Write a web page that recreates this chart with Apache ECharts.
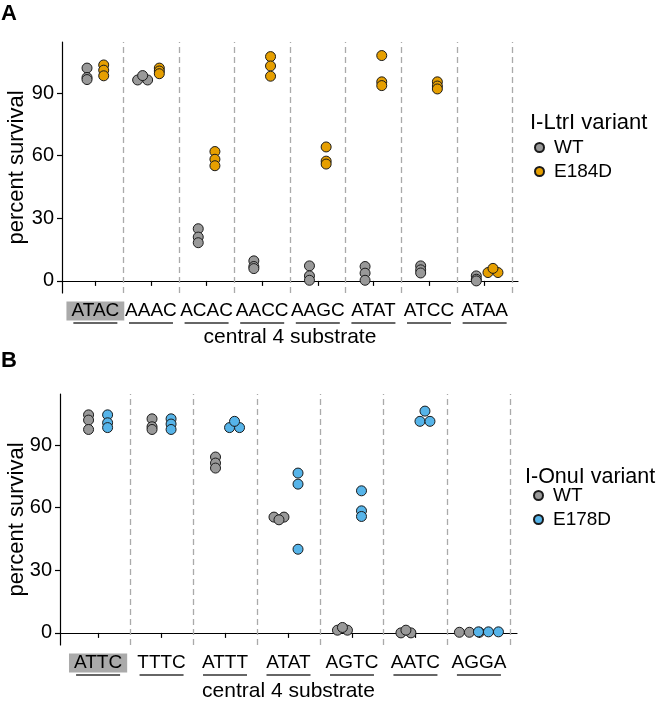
<!DOCTYPE html>
<html>
<head>
<meta charset="utf-8">
<script src="https://cdn.jsdelivr.net/npm/echarts@6/dist/echarts.min.js"></script>
<style>
html, body { margin: 0; padding: 0; background: #fff; }
#main { width: 661px; height: 706px; }
</style>
</head>
<body>
<div id="main"></div>
<script>
// panel A: I-LtrI
const catsA = ['ATAC', 'AAAC', 'ACAC', 'AACC', 'AAGC', 'ATAT', 'ATCC', 'ATAA'];
const wtA = [[102, 97.5, 96.5], [96.3, 98.4, 96.3], [25, 21, 18.3], [9.6, 6.9, 5.9],
             [7.2, 2.4, 0.3], [6.9, 3.7, 0.3], [7.2, 5.3, 3.8], [2.4, 0.8, 0]];
const e184dA = [[103.5, 101, 98.3], [102, 100.6, 99.3], [62, 58.3, 55.2], [107.5, 103, 98.1],
                [64.2, 57.4, 56], [108, 95.4, 93.6], [95.4, 93.4, 92], [4, 6, 4]];

// panel B: I-OnuI
const catsB = ['ATTC', 'TTTC', 'ATTT', 'ATAT', 'AGTC', 'AATC', 'AGGA'];
const wtB = [[104.5, 102, 97.5], [102.6, 98.8, 97.5], [84.3, 81.4, 79], [55.5, 54.2, 55.5],
             [1.3, 2.6, 1.3], [0, 1.3, 0], [0.3, 0.3, 0.3]];
const e178dB = [[104.5, 100.7, 98.4], [102.6, 100.1, 97.5], [98.4, 101.4, 98.4], [76.6, 71.3, 40.1],
                [68.1, 58.5, 55.8], [106.3, 101.4, 101.4], [0.5, 0.5, 0.5]];

const yTicks = [0, 30, 60, 90];

const FONT = '"Liberation Sans", Arial, Helvetica, sans-serif';
const GREY = '#999999';
const ORANGE = '#E69F00';
const BLUE = '#56B4E9';

const grids = [
    { left: 62, top: 42, width: 456, height: 251 },
    { left: 60, top: 394, width: 457, height: 251 }
];

// equal values go side by side, the rest stay stacked
function swarm(groups, side, gridW) {
    const n = groups.length;
    const step = 10 / (gridW / (n + 0.2));
    const pts = [];
    groups.forEach((vals, i) => {
        const cx = i + 1 + side * 0.15;
        const used = vals.map(() => false);
        vals.forEach((v, j) => {
            if (used[j]) return;
            const row = [];
            vals.forEach((w, k) => {
                if (!used[k] && Math.abs(w - v) < 0.5) { row.push(k); used[k] = true; }
            });
            row.forEach((k, r) => pts.push([cx + (r - (row.length - 1) / 2) * step, vals[k]]));
        });
    });
    return pts;
}

function xAxisFor(idx, cats, gap) {
    const ticks = cats.map((c, i) => i + 1);
    return {
        type: 'value', gridIndex: idx, min: 0.4, max: cats.length + 0.6,
        name: 'central 4 substrate', nameLocation: 'middle', nameGap: gap, nameMoveOverlap: false,
        nameTextStyle: { fontSize: 21, color: '#000', fontFamily: FONT },
        axisLine: { show: true, lineStyle: { color: '#000', width: 1.2 } },
        axisTick: { show: true, length: 5, customValues: ticks, lineStyle: { color: '#000', width: 1.2 } },
        axisLabel: {
            customValues: ticks, margin: 7, showMinLabel: true, showMaxLabel: true, hideOverlap: false,
            formatter: function (v) {
                const i = Math.round(v) - 1;
                return (i === 0 ? '{h|' : '{t|') + cats[i] + '}\n{u| }';
            },
            rich: {
                t: { fontSize: 19, color: '#000', fontFamily: FONT, lineHeight: 22 },
                h: { fontSize: 19, color: '#000', fontFamily: FONT, lineHeight: 22, backgroundColor: '#aaaaaa', padding: [0, 5] },
                u: { width: 44, height: 1.3, lineHeight: 2, fontSize: 1, backgroundColor: '#333' }
            }
        },
        splitLine: { show: false }
    };
}

function yAxisFor(idx, gap) {
    return {
        type: 'value', gridIndex: idx, min: -5.8, max: 114.5,
        name: 'percent survival', nameLocation: 'middle', nameGap: gap, nameMoveOverlap: false,
        nameTextStyle: { fontSize: 22, color: '#000', fontFamily: FONT },
        axisLine: { show: true, lineStyle: { color: '#000', width: 1.2 } },
        axisTick: { show: true, length: 5, customValues: yTicks, lineStyle: { color: '#000', width: 1.2 } },
        axisLabel: { customValues: yTicks, fontSize: 20, color: '#000', fontFamily: FONT, margin: 8,
                     showMinLabel: true, showMaxLabel: true },
        splitLine: { show: false }
    };
}

function dividers(cats) {
    return cats.map((c, i) => ({ xAxis: i + 1.5 }));
}

function points(name, color, data, idx, cats) {
    const s = {
        name: name, type: 'scatter', xAxisIndex: idx, yAxisIndex: idx,
        symbol: 'circle', symbolSize: 10, data: data,
        itemStyle: { color: color, borderColor: '#1a1a1a', borderWidth: 1, opacity: 1 },
        z: 3
    };
    if (cats) {
        s.markLine = {
            silent: true, symbol: ['none', 'none'], label: { show: false },
            lineStyle: { color: '#aaaaaa', type: [6, 4], width: 1.3 },
            data: dividers(cats)
        };
    }
    return s;
}

const legendText = { fontSize: 19, color: '#000', fontFamily: FONT, padding: [0, 0, 0, 5] };

const myChart = echarts.init(document.getElementById('main'));
const option = {
    animation: false,
    grid: grids.map(g => Object.assign({ outerBoundsMode: 'none', containLabel: false }, g)),
    title: [
        { text: 'A', left: 1, top: 3, padding: 0, textStyle: { fontSize: 22, fontWeight: 'bold', color: '#000', fontFamily: FONT } },
        { text: 'B', left: 1, top: 350, padding: 0, textStyle: { fontSize: 22, fontWeight: 'bold', color: '#000', fontFamily: FONT } },
        { text: 'I-LtrI variant', left: 530, top: 112, padding: 0, textStyle: { fontSize: 22, fontWeight: 'normal', color: '#000', fontFamily: FONT } },
        { text: 'I-OnuI variant', left: 525, top: 466, padding: 0, textStyle: { fontSize: 21.5, fontWeight: 'normal', color: '#000', fontFamily: FONT } }
    ],
    legend: [
        { data: ['WT', 'E184D'], orient: 'vertical', left: 534, top: 138, padding: 0, itemWidth: 9, itemHeight: 9, itemGap: 5,
          icon: 'circle', textStyle: legendText },
        { data: ['WT', 'E178D'], orient: 'vertical', left: 533, top: 486, padding: 0, itemWidth: 9, itemHeight: 9, itemGap: 5,
          icon: 'circle', textStyle: legendText }
    ],
    xAxis: [xAxisFor(0, catsA, 34), xAxisFor(1, catsB, 36)],
    yAxis: [yAxisFor(0, 34), yAxisFor(1, 32)],
    series: [
        points('WT', GREY, swarm(wtA, -1, grids[0].width), 0, catsA),
        points('E184D', ORANGE, swarm(e184dA, 1, grids[0].width), 0),
        points('WT', GREY, swarm(wtB, -1, grids[1].width), 1, catsB),
        points('E178D', BLUE, swarm(e178dB, 1, grids[1].width), 1)
    ]
};
myChart.setOption(option);
</script>
</body>
</html>
